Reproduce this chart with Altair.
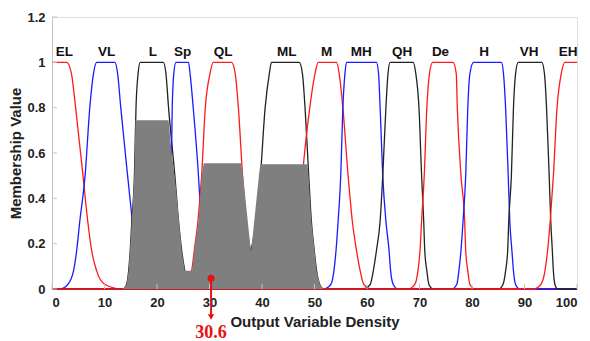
import altair as alt
import pandas as pd

# ---- data ----
LEVELS = [0, 0.02, 0.08, 0.17, 0.3, 0.5, 0.8, 0.95, 1]

mf_names = ["EL", "VL", "L", "Sp", "QL", "ML", "M", "MH", "QH", "De", "H", "VH", "EH"]
mf_colors = ["#ff1a1a", "#1a1aff", "#222222", "#1a1aff", "#ff1a1a", "#222222", "#ff1a1a",
             "#1a1aff", "#222222", "#ff1a1a", "#1a1aff", "#222222", "#ff1a1a"]
# left side x at LEVELS ascending (0 -> 1); right side x at LEVELS descending (1 -> 0)
mf_left = [
    None,
    [1.5, 3.0, 4.1, 4.7, 5.3, 6.3, 7.2, 7.9, 8.5],
    [13.5, 14.2, 14.6, 14.9, 15.2, 15.7, 16.0, 16.4, 16.8],
    [20.2, 21.2, 21.8, 22.1, 22.4, 22.7, 22.9, 23.2, 23.6],
    [23.5, 25.6, 26.6, 27.1, 27.8, 28.5, 29.2, 30.1, 30.7],
    [35.0, 36.3, 37.0, 37.9, 38.9, 39.7, 40.6, 41.4, 41.8],
    [43.5, 45.0, 45.8, 46.4, 47.0, 47.7, 49.1, 50.1, 50.7],
    [51.7, 53.1, 53.7, 54.1, 54.5, 55.0, 55.4, 55.8, 56.1],
    [59.2, 60.6, 61.2, 61.8, 62.5, 63.0, 63.6, 64.0, 64.4],
    [67.9, 69.1, 69.7, 70.1, 70.4, 70.9, 71.4, 71.9, 72.5],
    [76.1, 77.1, 77.5, 77.9, 78.3, 78.8, 79.2, 79.6, 80.3],
    [85.1, 85.9, 86.4, 86.8, 87.0, 87.5, 87.9, 88.3, 88.8],
    [91.7, 93.1, 93.9, 94.4, 94.9, 95.5, 96.2, 97.0, 97.7],
]
mf_right = [
    [2.8, 3.7, 4.5, 5.9, 6.8, 7.55, 8.5, 10.1, 13.3],
    [12.0, 12.5, 13.1, 14.4, 15.3, 15.9, 16.5, 17.5, 19.0],
    [21.2, 21.7, 22.2, 23.4, 24.1, 24.7, 25.3, 26.0, 27.0],
    [26.0, 26.3, 26.9, 27.9, 28.4, 28.8, 29.2, 29.8, 31.0],
    [34.2, 34.9, 35.5, 36.3, 37.0, 37.8, 38.4, 39.2, 40.5],
    [47.1, 47.7, 48.2, 48.9, 49.4, 49.95, 50.4, 51.0, 51.7],
    [54.2, 54.7, 55.4, 56.4, 57.2, 58.0, 58.7, 59.4, 60.9],
    [61.8, 62.2, 62.5, 63.0, 63.6, 64.2, 64.5, 65.0, 65.9],
    [68.8, 69.3, 69.9, 70.4, 70.8, 71.0, 71.4, 71.8, 72.6],
    [76.4, 77.0, 77.2, 77.9, 78.6, 78.8, 79.2, 79.6, 80.6],
    [85.6, 86.0, 86.4, 86.9, 87.2, 87.6, 87.9, 88.3, 89.1],
    [93.3, 93.8, 94.2, 94.7, 95.0, 95.3, 95.5, 95.8, 96.3],
    None,
]
label_x = [2.34, 10.4, 19.2, 24.9, 32.6, 44.7, 52.3, 58.9, 66.7, 74.0, 82.3, 90.9, 98.3]
label_v = 1.044

# aggregated (shaded) output area
gray_x = [13.5, 14.2, 14.6, 15.2, 15.7, 15.9, 22.2, 22.8, 23.6, 24.7, 25.3, 26.7, 27.1, 27.9,
          28.5, 28.9, 36.0, 36.4, 37.9, 39.5, 39.7, 48.6, 48.8, 49.4, 50.0, 50.4, 51.0, 51.7]
gray_v = [0, 0.02, 0.08, 0.3, 0.52, 0.745, 0.745, 0.6, 0.45, 0.17, 0.08, 0.08, 0.17, 0.3,
          0.5, 0.555, 0.555, 0.5, 0.16, 0.52, 0.55, 0.55, 0.52, 0.3, 0.17, 0.08, 0.022, 0]

marker_x = [30.3]
marker_v = [0.047]
marker_label = ["30.6"]

x_ticks = [0, 10, 20, 30, 40, 50, 60, 70, 80, 90, 100]
y_ticks = [0, 0.2, 0.4, 0.6, 0.8, 1.0, 1.2]

# ---- build tables ----
rows = []
for k, name in enumerate(mf_names):
    pts = []
    if mf_left[k] is None:
        pts.append((0.0, 1.0))
    else:
        if mf_left[k][0] > 0:
            pts.append((0.0, 0.0))
        pts += list(zip(mf_left[k], LEVELS))
    if mf_right[k] is None:
        pts.append((100.0, 1.0))
    else:
        pts += list(zip(mf_right[k], LEVELS[::-1]))
        pts.append((100.0, 0.0))
    for i, (x, v) in enumerate(pts):
        rows.append({"name": name, "col": mf_colors[k], "x": x, "v": v, "i": i, "k": k})
mf_df = pd.DataFrame(rows)
gray_df = pd.DataFrame({"x": gray_x, "v": gray_v})
lab_df = pd.DataFrame({"x": label_x, "v": [label_v] * len(label_x), "t": mf_names})
mk_df = pd.DataFrame({"x": marker_x, "v": marker_v, "t": marker_label})
xt_df = pd.DataFrame({"x": x_ticks})
yt_df = pd.DataFrame({"v": y_ticks})

FONT = "Liberation Sans"
RED = "#e81010"

xscale = alt.Scale(domain=[0, 100], nice=False, zero=False)
yscale = alt.Scale(domain=[0, 1.2], nice=False)

xaxis = alt.Axis(values=x_ticks, title="Output Variable Density", grid=False, tickSize=0,
                 labelPadding=7, labelFontSize=13, labelFontWeight="bold", labelFont=FONT,
                 labelColor="#222222", titleFont=FONT, titleFontSize=15, titleFontWeight="bold",
                 titleColor="#222222", titleBaseline="middle", titleX=262.5, titleY=32,
                 domainColor="#c4c4c4")
yaxis = alt.Axis(values=y_ticks, title="Membership Value", grid=False, tickSize=0, format="~g",
                 labelPadding=7, labelFontSize=13, labelFontWeight="bold", labelFont=FONT,
                 labelColor="#222222", titleFont=FONT, titleFontSize=15, titleFontWeight="bold",
                 titleColor="#222222", titleBaseline="middle", titleAngle=-90, titleX=-37,
                 titleY=136, domainColor="#c4c4c4")

base_x = alt.X("x:Q", scale=xscale, axis=xaxis)
base_y = alt.Y("v:Q", scale=yscale, axis=yaxis)

xticks = alt.Chart(xt_df).mark_rule(color="#c4c4c4", strokeWidth=1).encode(
    x=alt.X("x:Q", scale=xscale), y=alt.value(272), y2=alt.value(267))
yticks = alt.Chart(yt_df).mark_rule(color="#c4c4c4", strokeWidth=1).encode(
    y=alt.Y("v:Q", scale=yscale), x=alt.value(0), x2=alt.value(5))

lines = alt.Chart(mf_df).mark_line(strokeWidth=1.3, interpolate="monotone").encode(
    x=base_x, y=base_y,
    detail="name:N",
    color=alt.Color("col:N", scale=None),
    order="i:Q",
)

area = alt.Chart(gray_df).mark_area(color="#7f7f7f", opacity=1, interpolate="linear").encode(
    x=alt.X("x:Q", scale=xscale), y=alt.Y("v:Q", scale=yscale))

labels = alt.Chart(lab_df).mark_text(font=FONT, fontSize=13.5, fontWeight="bold",
                                     color="#111111", baseline="middle").encode(
    x=alt.X("x:Q", scale=xscale), y=alt.Y("v:Q", scale=yscale), text="t:N")

arrow = alt.Chart(mk_df).mark_rule(color=RED, strokeWidth=2).encode(
    x=alt.X("x:Q", scale=xscale), y=alt.Y("v:Q", scale=yscale), y2=alt.value(298))
head = alt.Chart(mk_df).mark_point(shape="triangle-down", filled=True, size=40, color=RED,
                                   opacity=1).encode(
    x=alt.X("x:Q", scale=xscale), y=alt.value(300))
dot = alt.Chart(mk_df).mark_circle(color=RED, size=50, opacity=1).encode(
    x=alt.X("x:Q", scale=xscale), y=alt.Y("v:Q", scale=yscale))
vtext = alt.Chart(mk_df).mark_text(font="Liberation Serif", fontSize=18, fontWeight="bold",
                                   color=RED, baseline="middle").encode(
    x=alt.X("x:Q", scale=xscale), y=alt.value(315.5), text="t:N")

chart = alt.layer(lines, area, xticks, yticks, labels, arrow, head, dot, vtext).properties(
    width=525, height=272,
    padding={"left": 44, "top": 9, "right": 5, "bottom": 52},
    autosize="none",
).configure_view(stroke=None).configure(background="white")

chart.save("out.html", embed_options={"renderer": "svg", "actions": False})
